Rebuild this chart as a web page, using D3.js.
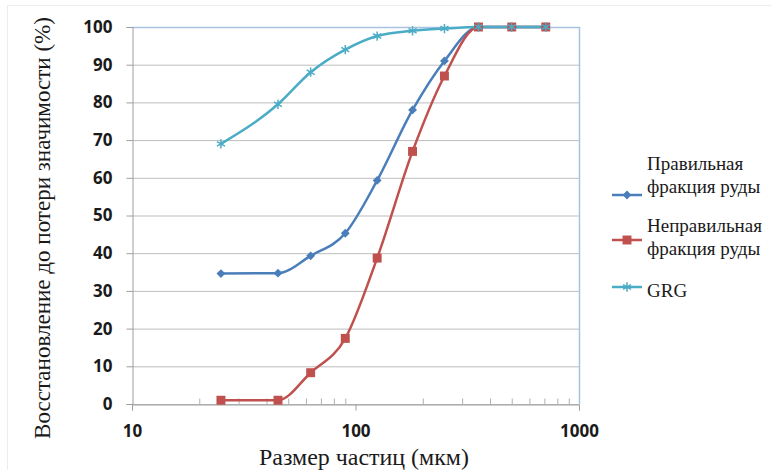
<!DOCTYPE html>
<html>
<head>
<meta charset="utf-8">
<script src="https://cdn.jsdelivr.net/npm/d3@7"></script>
</head>
<body style="margin:0">
<svg id="chart" width="771" height="470"></svg>
<script>
// particle size, microns
const sizes = [25, 45, 63, 90, 125, 180, 250, 355, 500, 710];
const regular = [34.6, 34.7, 39.3, 45.3, 59.3, 78.0, 91.0, 100, 100, 100];
const irregular = [1.0, 1.0, 8.3, 17.4, 38.7, 67.0, 87.0, 100, 100, 100];
const grg = [69.0, 79.5, 88.0, 94.0, 97.6, 99.0, 99.6, 100, 100, 100];
const seriesNames = [["Правильная", "фракция руды"], ["Неправильная", "фракция руды"], ["GRG"]];
const yTicks = [0, 10, 20, 30, 40, 50, 60, 70, 80, 90, 100];
const xMajor = [10, 100, 1000];
const xMinor = [20, 30, 40, 50, 60, 70, 80, 90, 200, 300, 400, 500, 600, 700, 800, 900];

const serifFont = "'Liberation Serif'";
const sansFont = "'Open Sans'";

const svg = d3.select("#chart");
const plotL = 132, plotR = 579, plotT = 27, plotB = 404;

const x = d3.scaleLog().domain([10, 1000]).range([plotL, plotR]);
const y = d3.scaleLinear().domain([0, 100]).range([plotB, plotT]);

// scale a text's font size so it spans the given width
function fitWidth(sel, target) {
    const fs = parseFloat(sel.style("font-size"));
    const w = sel.node().getComputedTextLength();
    if (w > 0) sel.style("font-size", (fs * target / w).toFixed(2) + "px");
}

// faint outer frame
svg.append("rect")
    .attr("x", 7.5).attr("y", 5.5)
    .attr("width", 800).attr("height", 480)
    .attr("fill", "none")
    .attr("stroke", "#ececec");

// gridlines
svg.append("g")
    .attr("transform", "translate(" + plotL + ",0)")
    .call(d3.axisLeft(y).tickValues(yTicks).tickSize(-(plotR - plotL)).tickFormat(""))
    .call(g => g.select(".domain").remove())
    .call(g => g.selectAll("line").attr("stroke", "#bdbdbd").attr("stroke-width", 1));

// plot border top / right
svg.append("path")
    .attr("d", "M" + plotL + "," + (plotT + 0.5) + "H" + (plotR + 0.5) + "V" + plotB)
    .attr("fill", "none")
    .attr("stroke", "#a9c1e2")
    .attr("stroke-width", 1.5);

// y axis
svg.append("g")
    .attr("transform", "translate(" + (plotL + 0.5) + ",0)")
    .call(d3.axisLeft(y).tickValues(yTicks).tickSize(6).tickPadding(14))
    .call(g => g.attr("font-family", null))
    .call(g => g.select(".domain").attr("stroke", "#9e9e9e"))
    .call(g => g.selectAll("line").attr("stroke", "#9e9e9e"))
    .call(g => g.selectAll("text")
        .attr("font-family", sansFont)
        .style("font-family", sansFont)
        .style("font-weight", "bold")
        .style("font-size", "17px")
        .attr("fill", "#1a1a1a"));

// x axis, major ticks outward
svg.append("g")
    .attr("transform", "translate(0," + (plotB + 0.5) + ")")
    .call(d3.axisBottom(x).tickValues(xMajor).tickSize(6).tickPadding(14).tickFormat(d3.format("d")))
    .call(g => g.attr("font-family", null))
    .call(g => g.select(".domain").attr("stroke", "#9e9e9e"))
    .call(g => g.selectAll("line").attr("stroke", "#9e9e9e"))
    .call(g => g.selectAll("text")
        .attr("font-family", sansFont)
        .style("font-family", sansFont)
        .style("font-weight", "bold")
        .style("font-size", "17px")
        .attr("fill", "#1a1a1a"));

// minor ticks inward
svg.append("g")
    .attr("transform", "translate(0," + (plotB + 0.5) + ")")
    .call(d3.axisBottom(x).tickValues(xMinor).tickSize(-6).tickFormat(""))
    .call(g => g.select(".domain").remove())
    .call(g => g.selectAll("line").attr("stroke", "#b0b0b0"));

// series
const series = [
    { values: regular, color: "#4a7ebb", symbol: d3.symbolDiamond2, size: 50, stroke: false },
    { values: irregular, color: "#c0504d", symbol: d3.symbolSquare, size: 80, stroke: false },
    { values: grg, color: "#4bacc6", symbol: d3.symbolAsterisk, size: 60, stroke: true }
];

const line = d3.line()
    .x((d, i) => x(sizes[i]))
    .y(d => y(d))
    .curve(d3.curveMonotoneX);

series.forEach(s => {
    svg.append("path")
        .attr("d", line(s.values))
        .attr("fill", "none")
        .attr("stroke", s.color)
        .attr("stroke-width", 2.5);
});

series.forEach(s => {
    svg.append("g").selectAll("path")
        .data(s.values)
        .join("path")
        .attr("transform", (d, i) => "translate(" + x(sizes[i]) + "," + y(d) + ")")
        .attr("d", d3.symbol(s.symbol, s.size))
        .attr("fill", s.stroke ? "none" : s.color)
        .attr("stroke", s.color)
        .attr("stroke-width", s.stroke ? 1.5 : 0);
});

// axis titles
const yTitle = svg.append("text")
    .attr("transform", "translate(50,228) rotate(-90)")
    .attr("text-anchor", "middle")
    .attr("font-family", serifFont)
    .style("font-family", serifFont)
    .style("font-size", "21px")
    .attr("fill", "#1a1a1a")
    .text("Восстановление до потери значимости (%)");
fitWidth(yTitle, 422);

const xTitle = svg.append("text")
    .attr("x", 364).attr("y", 465)
    .attr("text-anchor", "middle")
    .attr("font-family", serifFont)
    .style("font-family", serifFont)
    .style("font-size", "21px")
    .attr("fill", "#1a1a1a")
    .text("Размер частиц (мкм)");
fitWidth(xTitle, 210);

// legend
const legendMarkY = [195, 240, 287];
const legendTextY = [[170, 193], [232, 255], [297]];
const legend = svg.append("g");
series.forEach((s, k) => {
    legend.append("line")
        .attr("x1", 612).attr("x2", 642)
        .attr("y1", legendMarkY[k]).attr("y2", legendMarkY[k])
        .attr("stroke", s.color)
        .attr("stroke-width", 2.5);
    legend.append("path")
        .attr("transform", "translate(627," + legendMarkY[k] + ")")
        .attr("d", d3.symbol(s.symbol, s.size))
        .attr("fill", s.stroke ? "none" : s.color)
        .attr("stroke", s.color)
        .attr("stroke-width", s.stroke ? 1.5 : 0);
    seriesNames[k].forEach((t, j) => {
        legend.append("text")
            .attr("class", "legend-text")
            .attr("x", 647).attr("y", legendTextY[k][j])
            .attr("font-family", serifFont)
            .style("font-family", serifFont)
            .style("font-size", "17px")
            .attr("fill", "#1a1a1a")
            .text(t);
    });
});
// size legend font from the widest label
const widest = legend.selectAll(".legend-text").filter(function () { return this.textContent === "Неправильная"; });
const fsLegend = Math.min(19, 17 * 120 / widest.node().getComputedTextLength());
legend.selectAll(".legend-text").style("font-size", fsLegend.toFixed(2) + "px");
</script>
</body>
</html>
